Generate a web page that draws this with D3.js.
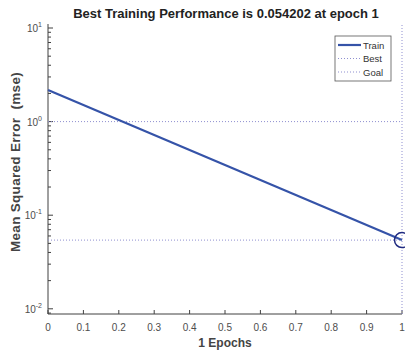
<!DOCTYPE html>
<html>
<head>
<meta charset="utf-8">
<script src="https://cdn.jsdelivr.net/npm/d3@7"></script>
<style>
body { margin: 0; background: #fff; }
text { font-family: "Liberation Sans", Arial, sans-serif; }
</style>
</head>
<body>
<svg id="chart" width="405" height="352"></svg>
<script>
// data
const epochs = [0, 1];
const trainPerf = [2.18, 0.054202];
const bestEpoch = 1;
const bestPerf = 0.054202;
const goalPerf = 1;
const xTicks = [0, 0.1, 0.2, 0.3, 0.4, 0.5, 0.6, 0.7, 0.8, 0.9, 1];
const yExps = [-2, -1, 0, 1];
const legendItems = ['Train', 'Best', 'Goal'];

const svg = d3.select('#chart');
const pLeft = 48, pRight = 402, pTop = 28, pBottom = 314;

const x = d3.scaleLinear().domain([0, 1]).range([pLeft, pRight]);
const y = d3.scaleLog().domain([0.0088, 10]).range([pBottom, pTop]);

const axisCol = '#404040';
const dotCol = '#8f8fd0';

// axes lines
svg.append('line')
  .attr('x1', pLeft).attr('x2', pRight).attr('y1', pBottom).attr('y2', pBottom)
  .style('stroke', axisCol).style('stroke-width', 1);
svg.append('line')
  .attr('x1', pLeft).attr('x2', pLeft).attr('y1', pBottom).attr('y2', pTop - 4)
  .style('stroke', axisCol).style('stroke-width', 1);

// x ticks (inward)
svg.selectAll('.xt').data(xTicks).enter().append('line')
  .attr('x1', d => x(d)).attr('x2', d => x(d))
  .attr('y1', pBottom).attr('y2', pBottom - 4)
  .style('stroke', axisCol);
svg.selectAll('.xl').data(xTicks).enter().append('text')
  .attr('x', d => x(d)).attr('y', pBottom + 17)
  .attr('text-anchor', 'middle')
  .style('font-size', '10px').style('fill', '#4d4d4d')
  .text(d => d3.format('~g')(d));

// y major + minor ticks
const minor = [];
yExps.forEach(e => {
  if (e < 1) for (let k = 2; k < 10; k++) minor.push(k * Math.pow(10, e));
});
minor.unshift(0.009);
svg.selectAll('.ymt').data(minor).enter().append('line')
  .attr('x1', pLeft).attr('x2', pLeft + 3)
  .attr('y1', d => y(d)).attr('y2', d => y(d))
  .style('stroke', axisCol);
svg.selectAll('.yt').data(yExps).enter().append('line')
  .attr('x1', pLeft).attr('x2', pLeft + 5)
  .attr('y1', d => y(Math.pow(10, d))).attr('y2', d => y(Math.pow(10, d)))
  .style('stroke', axisCol);
const yl = svg.selectAll('.yl').data(yExps).enter().append('text')
  .attr('x', pLeft - 6).attr('y', d => y(Math.pow(10, d)) + 4)
  .attr('text-anchor', 'end')
  .style('font-size', '10px').style('fill', '#4d4d4d');
yl.append('tspan').text('10');
yl.append('tspan').attr('dy', -5).style('font-size', '7px').text(d => d);

// goal and best dotted lines
svg.append('line')
  .attr('x1', pLeft).attr('x2', pRight).attr('y1', y(goalPerf)).attr('y2', y(goalPerf))
  .style('stroke', dotCol).style('stroke-dasharray', '1,2');
svg.append('line')
  .attr('x1', pLeft).attr('x2', pRight).attr('y1', y(bestPerf)).attr('y2', y(bestPerf))
  .style('stroke', dotCol).style('stroke-dasharray', '1,2');
svg.append('line')
  .attr('x1', x(bestEpoch)).attr('x2', x(bestEpoch)).attr('y1', pBottom).attr('y2', pTop - 4)
  .style('stroke', dotCol).style('stroke-dasharray', '1,2');

// train line
const line = d3.line().x((d, i) => x(epochs[i])).y(d => y(d));
svg.append('path')
  .datum(trainPerf)
  .attr('d', line)
  .style('fill', 'none').style('stroke', '#3553a8').style('stroke-width', 2.2);

// best marker
svg.append('circle')
  .attr('cx', x(bestEpoch)).attr('cy', y(bestPerf)).attr('r', 7.5)
  .style('fill', 'none').style('stroke', '#1f2a80').style('stroke-width', 1.5);

// legend
const lg = svg.append('g').attr('transform', 'translate(335,36)');
lg.append('rect').attr('width', 56).attr('height', 45)
  .style('fill', '#fff').style('stroke', '#555').style('stroke-width', 0.8);
legendItems.forEach((name, i) => {
  const yy = 9 + i * 13.5;
  lg.append('line')
    .attr('x1', 3).attr('x2', 26).attr('y1', yy).attr('y2', yy)
    .style('stroke', i === 0 ? '#3553a8' : dotCol)
    .style('stroke-width', i === 0 ? 2.2 : 1)
    .style('stroke-dasharray', i === 0 ? null : '1,2');
  lg.append('text').attr('x', 28).attr('y', yy + 3.5)
    .style('font-size', '9.5px').style('fill', '#333').text(name);
});

// title and labels
svg.append('text')
  .attr('x', 226).attr('y', 18).attr('text-anchor', 'middle')
  .style('font-size', '13px').style('font-weight', 'bold').style('fill', '#222')
  .text('Best Training Performance is 0.054202 at epoch 1');
svg.append('text')
  .attr('x', 225).attr('y', 347).attr('text-anchor', 'middle')
  .style('font-size', '12px').style('font-weight', 'bold').style('fill', '#444')
  .text('1 Epochs');
svg.append('text')
  .attr('transform', 'translate(20,' + 162 + ')rotate(-90)')
  .attr('text-anchor', 'middle')
  .style('white-space', 'pre')
  .style('font-size', '13.5px').style('letter-spacing', '0.3px')
  .style('font-weight', 'bold').style('fill', '#444')
  .text('Mean Squared Error  (mse)');
</script>
</body>
</html>
